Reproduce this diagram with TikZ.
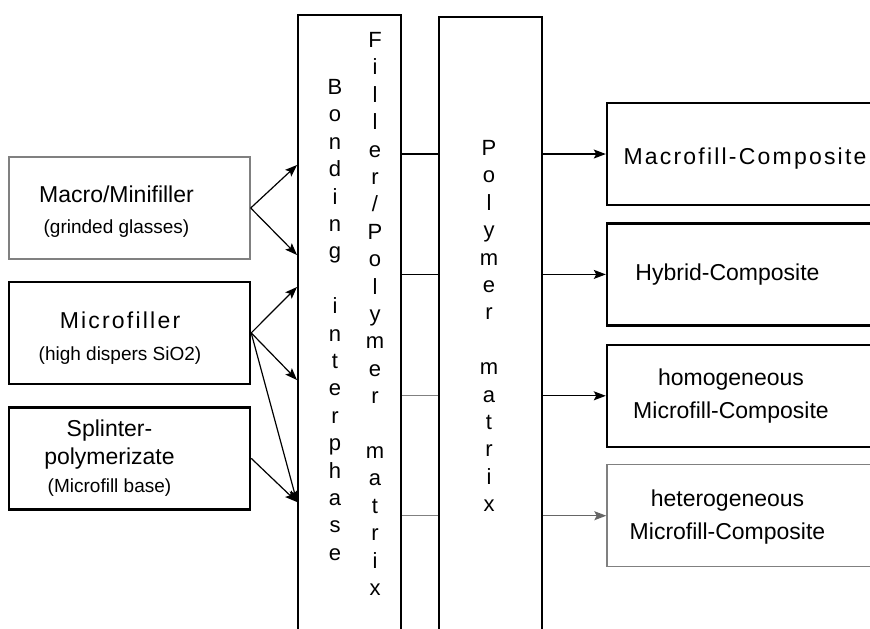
\documentclass[tikz,border=0pt]{standalone}
\usepackage{fontspec}
\setmainfont{Liberation Sans}
\newfontfamily\spaced[LetterSpace=9.6]{Liberation Sans}
\usetikzlibrary{arrows.meta,positioning}
\tikzset{
	%Define standard arrow tip
	>={Stealth[length=6pt,width=4.5pt,inset=1.2pt]},
	%Define style for filler boxes
	inbox/.style={
		rectangle,
		draw=black, line width=1.2pt,
		minimum width=120.5pt,
		minimum height=51pt},
	%Define style for composite boxes
	outbox/.style={
		rectangle,
		draw=black, line width=1.2pt,
		minimum width=136.5pt,
		minimum height=51pt},
	% grey border
	faint/.style={draw=black!50, line width=0.7pt},
	%Define style for the two matrix columns
	phasebox/.style={
		rectangle,
		draw=black, line width=1pt,
		minimum width=51.5pt,
		minimum height=317.5pt},
	% texts
	lbl/.style={align=center, inner sep=0pt, font=\fontsize{11.5}{16.5}\selectfont},
	vert/.style={align=center, anchor=north, inner sep=0pt, font=\fontsize{11}{13.7}\selectfont},
	% Define arrow style
	pil/.style={->, line width=0.6pt},
	link/.style={line width=0.6pt}
}

\begin{document}
\begin{tikzpicture}[x=0.5pt, y=-0.5pt]
	\useasboundingbox (0,0) rectangle (870,628);

	\node[inbox, faint] (macro) at (129.5,208) {};
	\node[inbox, below = 10.5pt of macro] (micro) {};
	\node[inbox, below = 10.5pt of micro] (splinter) {};

	\node[lbl, font=\fontsize{11.5}{15.5}\selectfont] (macro-t) at ([xshift=-6.5pt,yshift=-2pt]macro.center)
		{Macro/Minifiller\\{\fontsize{9.5}{12}\selectfont (grinded glasses)}};
	\node[lbl, font=\fontsize{11.5}{16}\selectfont] (micro-t) at ([xshift=-4.75pt,yshift=-2.5pt]micro.center)
		{{\spaced Microfiller}\\{\fontsize{9.5}{12}\selectfont (high dispers SiO2)}};
	\node[lbl, font=\fontsize{11.5}{14}\selectfont] (splinter-t) at ([xshift=-10pt]splinter.center)
		{Splinter-\\polymerizate\\{\fontsize{9.5}{12}\selectfont (Microfill base)}};

	\node[phasebox] (bond) at (349.5,332.5) {};
	\node[phasebox, right = 18pt of bond, yshift=-1pt] (poly) {};

	\node[vert] (bond-t) at (335,79) {B\\o\\n\\d\\i\\n\\g\\~\\i\\n\\t\\e\\r\\p\\h\\a\\s\\e};
	\node[vert] (filler-t) at (375,32) {F\\i\\l\\l\\e\\r\\/\\P\\o\\l\\y\\m\\e\\r\\~\\m\\a\\t\\r\\i\\x};
	\node[vert] (poly-t) at (489,140) {P\\o\\l\\y\\m\\e\\r\\~\\m\\a\\t\\r\\i\\x};

	\node[outbox] (macrofill) at (743.5,154) {};
	\node[outbox, below = 8pt of macrofill] (hybrid) {};
	\node[outbox, below = 8.5pt of hybrid] (homo) {};
	\node[outbox, faint, below = 8pt of homo] (hetero) {};

	\node[lbl] (macrofill-t) at ([xshift=0.75pt,yshift=-2.5pt]macrofill.center) {\spaced Macrofill-Composite};
	\node[lbl] (hybrid-t) at ([xshift=-8pt]hybrid.center) {Hybrid-Composite};
	\node[lbl] (homo-t) at ([xshift=-6.25pt]homo.center) {homogeneous\\Microfill-Composite};
	\node[lbl] (hetero-t) at ([xshift=-8pt,yshift=-0.75pt]hetero.center) {heterogeneous\\Microfill-Composite};

	\coordinate (t1) at (bond.west |- 0,165);
	\coordinate (t2) at (bond.west |- 0,255);
	\coordinate (t3) at (bond.west |- 0,287);
	\coordinate (t4) at (bond.west |- 0,380);
	\coordinate (t5) at (bond.west |- 0,502);

	\path
	(macro.east) edge [pil] (t1)
	(macro.east) edge [pil] (t2)
	(micro.east) edge [pil] (t3)
	(micro.east) edge [pil] (t4)
	(micro.east) edge [pil] (t5)
	(splinter.east) edge [pil] (t5)

	(bond.east |- macrofill.west) edge [link] (poly.west |- macrofill.west)
	(bond.east |- hybrid.west) edge [link] (poly.west |- hybrid.west)
	(bond.east |- homo.west) edge [link, black!50] (poly.west |- homo.west)
	(bond.east |- hetero.west) edge [link, black!50] (poly.west |- hetero.west)

	(poly.east |- macrofill.west) edge [pil] (macrofill.west)
	(poly.east |- hybrid.west) edge [pil] (hybrid.west)
	(poly.east |- homo.west) edge [pil] (homo.west)
	(poly.east |- hetero.west) edge [pil, black!60] (hetero.west)
	;
\end{tikzpicture}
\end{document}
